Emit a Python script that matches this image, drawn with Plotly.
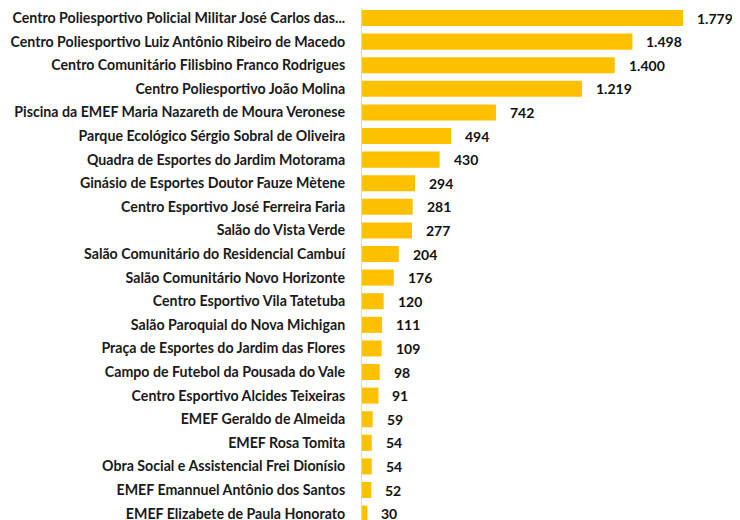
import plotly.graph_objects as go

categories = [
    "Centro Poliesportivo Policial Militar José Carlos das...",
    "Centro Poliesportivo Luiz Antônio Ribeiro de Macedo",
    "Centro Comunitário Filisbino Franco Rodrigues",
    "Centro Poliesportivo João Molina",
    "Piscina da EMEF Maria Nazareth de Moura Veronese",
    "Parque Ecológico Sérgio Sobral de Oliveira",
    "Quadra de Esportes do Jardim Motorama",
    "Ginásio de Esportes Doutor Fauze Mètene",
    "Centro Esportivo José Ferreira Faria",
    "Salão do Vista Verde",
    "Salão Comunitário do Residencial Cambuí",
    "Salão Comunitário Novo Horizonte",
    "Centro Esportivo Vila Tatetuba",
    "Salão Paroquial do Nova Michigan",
    "Praça de Esportes do Jardim das Flores",
    "Campo de Futebol da Pousada do Vale",
    "Centro Esportivo Alcides Teixeiras",
    "EMEF Geraldo de Almeida",
    "EMEF Rosa Tomita",
    "Obra Social e Assistencial Frei Dionísio",
    "EMEF Emannuel Antônio dos Santos",
    "EMEF Elizabete de Paula Honorato",
]
values = [1779, 1498, 1400, 1219, 742, 494, 430, 294, 281, 277, 204, 176,
          120, 111, 109, 98, 91, 59, 54, 54, 52, 30]

def fmt(v):
    return f"{v:,}".replace(",", ".")

labels = [fmt(v) for v in values]

fig = go.Figure()
fig.add_trace(go.Bar(
    x=values, y=categories, orientation="h",
    marker=dict(color="#FFC000", line=dict(width=0)),
    width=0.68, hoverinfo="x+y",
))
for c, v, t in zip(categories, values, labels):
    fig.add_annotation(x=v, y=c, text=t, xanchor="left", yanchor="middle",
                       xshift=12, showarrow=False,
                       font=dict(family="Lato", size=14, color="#111111", weight="bold"))

fig.update_layout(
    width=732, height=512,
    margin=dict(l=354, r=0, t=0, b=0, autoexpand=False),
    paper_bgcolor="white", plot_bgcolor="white",
    showlegend=False,
    font=dict(family="Lato", color="#1a1a1a"),
    xaxis=dict(range=[0, 2094], visible=False, showgrid=False, zeroline=False,
               automargin=False),
    yaxis=dict(
        type="category", categoryorder="array", categoryarray=categories,
        range=[21.27, -0.424], showgrid=False, zeroline=False, automargin=False,
        showline=True, linecolor="#d9d9d9", linewidth=1,
        ticks="", ticklabelstandoff=13,
        tickfont=dict(family="Lato", size=14.2, color="#1a1a1a", weight="bold"),
    ),
)
fig.write_html("out.html")
